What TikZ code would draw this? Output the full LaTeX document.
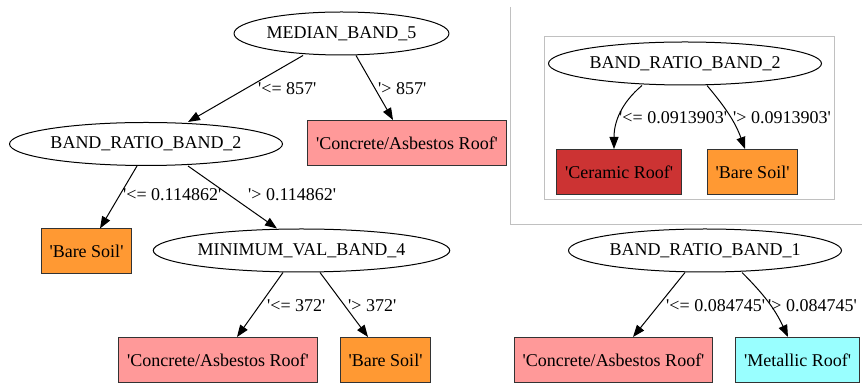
\documentclass[tikz,border=0pt]{standalone}
\usepackage{fontspec}
\setmainfont{Liberation Serif}[Ligatures=TeXOff]
\usetikzlibrary{arrows.meta,shapes.geometric}
\definecolor{roofpink}{HTML}{FF9999}
\definecolor{soilorange}{HTML}{FF9933}
\definecolor{ceramicred}{HTML}{CC3333}
\definecolor{metalcyan}{HTML}{99FFFF}
\definecolor{framegray}{HTML}{C0C0C0}

\begin{document}
\begin{tikzpicture}[x=1pt,y=1pt,font=\fontsize{18}{20}\selectfont,
  split/.style={ellipse,draw,line width=1pt,inner xsep=1pt,minimum height=43pt},
  leaf/.style={rectangle,draw=black!80,line width=1pt,inner xsep=8.5pt,minimum height=45pt},
  arr/.style={line width=1pt,-{Triangle[length=12pt,width=9pt]}},
  lbl/.style={anchor=west,inner sep=0pt}]
\useasboundingbox (0,0) rectangle (862,385);
\draw[framegray,line width=0.8pt](510,378)--(510,161)--(862,161)(544,186) rectangle (834,349);

\node[split] (m5) at (341.5,351.5) {MEDIAN\_BAND\_5};
\node[split] (br2) at (146,241) {BAND\_RATIO\_BAND\_2};
\node[leaf,fill=roofpink] (c1) at (407,242) {'Concrete/Asbestos Roof'};
\node[leaf,fill=soilorange] (bs1) at (86.5,133.5) {'Bare Soil'};
\node[split] (min4) at (301.5,134.5) {MINIMUM\_VAL\_BAND\_4};
\node[leaf,fill=roofpink] (c2) at (218,25) {'Concrete/Asbestos Roof'};
\node[leaf,fill=soilorange] (bs2) at (385.5,25) {'Bare Soil'};
\node[split] (ibr2) at (685,321.5) {BAND\_RATIO\_BAND\_2};
\node[leaf,fill=ceramicred] (cer) at (619,213) {'Ceramic Roof'};
\node[leaf,fill=soilorange] (bs3) at (752.5,213) {'Bare Soil'};
\node[split] (br1) at (705,134.5) {BAND\_RATIO\_BAND\_1};
\node[leaf,fill=roofpink] (c3) at (613.5,25) {'Concrete/Asbestos Roof'};
\node[leaf,fill=metalcyan] (met) at (797.5,25) {'Metallic Roof'};

\draw[arr]([xshift=-38.5pt]m5.south)--([xshift=42pt]br2.north);
\draw[arr]([xshift=14.5pt]m5.south)--([xshift=-14pt]c1.north);
\draw[arr]([xshift=-9pt]br2.south)--([xshift=13.5pt]bs1.north);
\draw[arr]([xshift=42pt]br2.south)--([xshift=-24.5pt]min4.north);
\draw[arr]([xshift=-18.5pt]min4.south)--([xshift=19pt]c2.north);
\draw[arr]([xshift=18.5pt]min4.south)--([xshift=-17.5pt]bs2.north);
\draw[arr]([xshift=-43pt]ibr2.south) to[out=220,in=90] ([xshift=-5pt]cer.north);
\draw[arr]([xshift=22pt]ibr2.south) to[out=-50,in=110] ([xshift=-7.5pt]bs3.north);
\draw[arr]([xshift=-20pt]br1.south)--([xshift=19.5pt]c3.north);
\draw[arr]([xshift=37pt]br1.south) to[out=-45,in=115] ([xshift=-9.5pt]met.north);

\node[lbl] (l1) at (258,296) {'<= 857'};
\node[lbl] (l2) at (378,296) {'> 857'};
\node[lbl] (l3) at (123,190) {'<= 0.114862'};
\node[lbl] (l4) at (248,190) {'> 0.114862'};
\node[lbl] (l5) at (267,79) {'<= 372'};
\node[lbl] (l6) at (348,79) {'> 372'};
\node[lbl] (l7) at (619,267) {'<= 0.0913903'};
\node[lbl] (l8) at (733,267) {'> 0.0913903'};
\node[lbl] (l9) at (666,79) {'<= 0.084745'};
\node[lbl] (l10) at (768,79) {'> 0.084745'};
\end{tikzpicture}
\end{document}
